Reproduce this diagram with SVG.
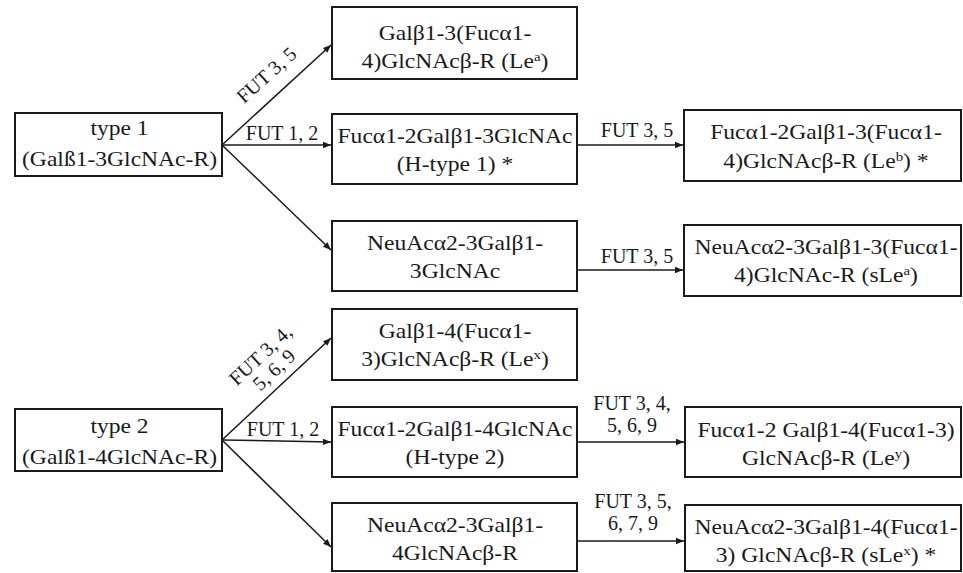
<svg xmlns="http://www.w3.org/2000/svg" width="963" height="573" viewBox="0 0 963 573">
<defs>
<style>
.box{fill:#fff;stroke:#1a1a1a;stroke-width:2}
.t{font-family:"Liberation Serif","Times New Roman",serif;font-size:20.5px;fill:#1a1a1a;text-anchor:middle}
.l{font-family:"Liberation Serif","Times New Roman",serif;font-size:20px;fill:#1a1a1a;text-anchor:middle}
.c{stroke:#1a1a1a;stroke-width:1.5;fill:none;marker-end:url(#ah)}
</style>
<marker id="ah" viewBox="0 0 10 10" refX="10" refY="5" markerWidth="10" markerHeight="8" markerUnits="userSpaceOnUse" orient="auto">
<path d="M0,1 L10,5 L0,9 z" fill="#1a1a1a"/>
</marker>
</defs>
<rect width="963" height="573" fill="#fff"/>

<g id="connectors">
<line class="c" x1="222" y1="145" x2="331" y2="45"/>
<line class="c" x1="222" y1="145" x2="331" y2="145"/>
<line class="c" x1="222" y1="145" x2="331" y2="250"/>
<line class="c" x1="577" y1="145" x2="683" y2="145"/>
<line class="c" x1="577" y1="270" x2="683" y2="270"/>
<line class="c" x1="222" y1="440" x2="331" y2="338"/>
<line class="c" x1="222" y1="440" x2="331" y2="442"/>
<line class="c" x1="222" y1="440" x2="331" y2="547"/>
<line class="c" x1="577" y1="442" x2="684" y2="442"/>
<line class="c" x1="577" y1="541" x2="684" y2="541"/>
<text class="l" transform="translate(271,80) rotate(-42)">FUT 3, 5</text>
<text class="l" x="282" y="140">FUT 1, 2</text>
<text class="l" x="637" y="137">FUT 3, 5</text>
<text class="l" x="637" y="263">FUT 3, 5</text>
<text class="l" transform="translate(265,360) rotate(-43)"><tspan x="0" y="0">FUT 3, 4,</tspan><tspan x="0" y="20">5, 6, 9</tspan></text>
<text class="l" x="283" y="436">FUT 1, 2</text>
<text class="l"><tspan x="632" y="410">FUT 3, 4,</tspan><tspan x="632" y="432">5, 6, 9</tspan></text>
<text class="l"><tspan x="633" y="508">FUT 3, 5,</tspan><tspan x="633" y="530">6, 7, 9</tspan></text>
</g>

<g id="type1">
<rect class="box" x="15" y="113" width="207" height="63"/>
<text class="t" transform="translate(119.5,0) scale(1.15,1)"><tspan x="0" y="135">type 1</tspan><tspan x="0" y="166">(Galß1-3GlcNAc-R)</tspan></text>
</g>

<g id="lea">
<rect class="box" x="332" y="7" width="245" height="72"/>
<text class="t" transform="translate(455,0) scale(1.15,1)"><tspan x="0" y="40">Galβ1-3(Fucα1-</tspan><tspan x="0" y="68">4)GlcNAcβ-R (Le<tspan dy="-7" font-size="13">a</tspan><tspan dy="7">)</tspan></tspan></text>
</g>

<g id="htype1">
<rect class="box" x="332" y="114" width="245" height="70"/>
<text class="t" transform="translate(455,0) scale(1.15,1)"><tspan x="0" y="143">Fucα1-2Galβ1-3GlcNAc</tspan><tspan x="0" y="171">(H-type 1) *</tspan></text>
</g>

<g id="neuac1">
<rect class="box" x="332" y="221" width="245" height="70"/>
<text class="t" transform="translate(455,0) scale(1.15,1)"><tspan x="0" y="250">NeuAcα2-3Galβ1-</tspan><tspan x="0" y="278">3GlcNAc</tspan></text>
</g>

<g id="leb">
<rect class="box" x="684" y="110" width="277" height="71"/>
<text class="t" transform="translate(826,0) scale(1.15,1)"><tspan x="0" y="139">Fucα1-2Galβ1-3(Fucα1-</tspan><tspan x="0" y="168">4)GlcNAcβ-R (Le<tspan dy="-7" font-size="13">b</tspan><tspan dy="7">) *</tspan></tspan></text>
</g>

<g id="slea">
<rect class="box" x="684" y="225" width="277" height="71"/>
<text class="t" transform="translate(826,0) scale(1.15,1)"><tspan x="0" y="254">NeuAcα2-3Galβ1-3(Fucα1-</tspan><tspan x="0" y="282">4)GlcNAc-R (sLe<tspan dy="-7" font-size="13">a</tspan><tspan dy="7">)</tspan></tspan></text>
</g>

<g id="type2">
<rect class="box" x="15" y="409" width="207" height="62"/>
<text class="t" transform="translate(119.5,0) scale(1.15,1)"><tspan x="0" y="433">type 2</tspan><tspan x="0" y="464">(Galß1-4GlcNAc-R)</tspan></text>
</g>

<g id="lex">
<rect class="box" x="332" y="309" width="245" height="71"/>
<text class="t" transform="translate(455,0) scale(1.15,1)"><tspan x="0" y="338">Galβ1-4(Fucα1-</tspan><tspan x="0" y="366">3)GlcNAcβ-R (Le<tspan dy="-7" font-size="13">x</tspan><tspan dy="7">)</tspan></tspan></text>
</g>

<g id="htype2">
<rect class="box" x="332" y="407" width="245" height="70"/>
<text class="t" transform="translate(455,0) scale(1.15,1)"><tspan x="0" y="436">Fucα1-2Galβ1-4GlcNAc</tspan><tspan x="0" y="464">(H-type 2)</tspan></text>
</g>

<g id="neuac2">
<rect class="box" x="332" y="503" width="245" height="68"/>
<text class="t" transform="translate(455,0) scale(1.15,1)"><tspan x="0" y="532">NeuAcα2-3Galβ1-</tspan><tspan x="0" y="560">4GlcNAcβ-R</tspan></text>
</g>

<g id="ley">
<rect class="box" x="685" y="407" width="276" height="70"/>
<text class="t" transform="translate(826,0) scale(1.15,1)"><tspan x="0" y="437">Fucα1-2 Galβ1-4(Fucα1-3)</tspan><tspan x="0" y="465">GlcNAcβ-R (Le<tspan dy="-7" font-size="13">y</tspan><tspan dy="7">)</tspan></tspan></text>
</g>

<g id="slex">
<rect class="box" x="685" y="505" width="276" height="66"/>
<text class="t" transform="translate(826,0) scale(1.15,1)"><tspan x="0" y="534">NeuAcα2-3Galβ1-4(Fucα1-</tspan><tspan x="0" y="562">3) GlcNAcβ-R (sLe<tspan dy="-7" font-size="13">x</tspan><tspan dy="7">) *</tspan></tspan></text>
</g>
</svg>
